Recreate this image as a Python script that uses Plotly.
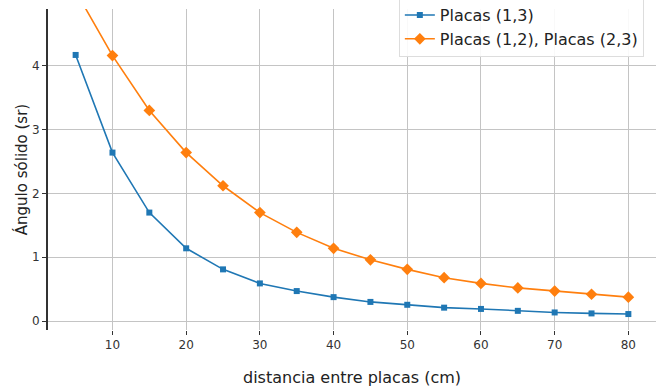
import plotly.graph_objects as go

distancia = [5, 10, 15, 20, 25, 30, 35, 40, 45, 50, 55, 60, 65, 70, 75, 80]
placas_13 = [4.17, 2.64, 1.70, 1.14, 0.81, 0.59, 0.47, 0.375, 0.30, 0.255, 0.21, 0.19, 0.16, 0.135, 0.12, 0.11]
placas_12_23 = [5.17, 4.16, 3.30, 2.64, 2.12, 1.70, 1.39, 1.14, 0.96, 0.81, 0.68, 0.59, 0.52, 0.47, 0.42, 0.375]

xticks = [10, 20, 30, 40, 50, 60, 70, 80]
yticks = [0, 1, 2, 3, 4]

FONT = "DejaVu Sans"

fig = go.Figure()
fig.add_trace(go.Scatter(
    x=distancia, y=placas_13, mode="lines+markers", name="Placas (1,3)",
    legendgroup="a",
    line=dict(color="#1f77b4", width=1.6),
    marker=dict(symbol="square", size=6, color="#1f77b4"),
))
fig.add_trace(go.Scatter(
    x=distancia, y=placas_12_23, mode="lines+markers", name="Placas (1,2), Placas (2,3)",
    legendgroup="b",
    line=dict(color="#ff7f0e", width=1.6),
    marker=dict(symbol="diamond", size=9, color="#ff7f0e"),
))

fig.update_layout(
    width=656, height=387,
    margin=dict(l=48, r=0, t=9, b=57, autoexpand=False),
    paper_bgcolor="white", plot_bgcolor="white",
    font=dict(family=FONT, color="#222"),
    legend=dict(
        x=0.98, y=1.037, xanchor="right", yanchor="top",
        bgcolor="rgba(255,255,255,0.9)", bordercolor="#dddddd", borderwidth=1,
        font=dict(size=16, family=FONT, color="#222"),
        tracegroupgap=0,
    ),
    showlegend=True,
)
fig.update_xaxes(
    range=[1.25, 83.75], tickvals=xticks, ticktext=[str(v) for v in xticks],
    showgrid=True, gridcolor="#c4c4c4", gridwidth=1,
    zeroline=False, showline=False, automargin=False,
    ticks="outside", ticklen=4, tickcolor="#333",
    tickfont=dict(size=12, family=FONT, color="#333"),
    title=dict(text="distancia entre placas (cm)", font=dict(size=16, family=FONT, color="#222"), standoff=25),
)
fig.update_yaxes(
    range=[-0.14, 4.89], tickvals=yticks, ticktext=[str(v) for v in yticks],
    showgrid=True, gridcolor="#c4c4c4", gridwidth=1,
    zeroline=False, showline=True, mirror=True, linecolor="#333", linewidth=2,
    automargin=False,
    ticks="outside", ticklen=4, tickcolor="#333",
    tickfont=dict(size=12, family=FONT, color="#333"),
    title=dict(text="Ángulo sólido (sr)", font=dict(size=15, family=FONT, color="#222"), standoff=1),
)

fig.write_html(
    "out.html",
    config={"displayModeBar": False},
    post_script="document.body.style.margin='0';document.body.style.overflow='hidden';",
)
